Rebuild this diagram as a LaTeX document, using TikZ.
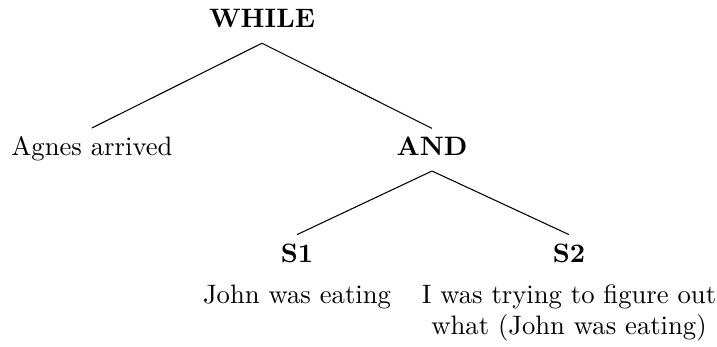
\documentclass[tikz,border=0pt]{standalone}
\begin{document}
\begin{tikzpicture}[x=0.375pt,y=-0.375pt,
  lbl/.style={inner sep=0pt,outer sep=0pt,align=center,font=\normalsize},
  edge/.style={draw,line width=0.4pt}]
\useasboundingbox (0,0) rectangle (717,346);
\node[lbl,anchor=base] (while) at (262,27) {\textbf{WHILE}};
\node[lbl,anchor=base] (agnes) at (92,155) {Agnes arrived};
\node[lbl,anchor=base] (and) at (432,155) {\textbf{AND}};
\node[lbl,anchor=base] (s1) at (297,262) {\textbf{S1}};
\node[lbl,anchor=base] (s1t) at (297,303) {John was eating};
\node[lbl,anchor=base] (s2) at (569,262) {\textbf{S2}};
\node[lbl,anchor=base] (s2t) at (569,303) {I was trying to figure out};
\node[lbl,anchor=base] (s2u) at (569,334) {what (John was eating)};
\draw[edge] ([yshift=-6pt]while.south) -- ([yshift=3pt]agnes.north);
\draw[edge] ([yshift=-6pt]while.south) -- ([yshift=3pt]and.north);
\draw[edge] ([yshift=-6pt]and.south) -- ([yshift=3.3pt]s1.north);
\draw[edge] ([yshift=-6pt]and.south) -- ([yshift=3.3pt]s2.north);
\end{tikzpicture}
\end{document}
